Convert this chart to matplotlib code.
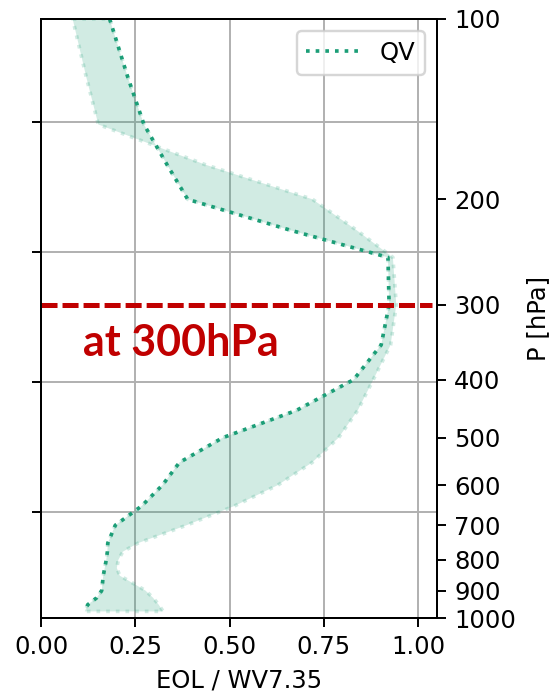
import numpy as np
import matplotlib
matplotlib.use("Agg")
import matplotlib.pyplot as plt
from matplotlib.ticker import FixedLocator, NullLocator, FixedFormatter

# Data
pressure = [100, 125, 150, 175, 200, 225, 250, 300, 350, 400, 450, 500, 550,
            600, 650, 700, 750, 775, 800, 825, 850, 875, 900, 925, 950, 975]
qv = [0.182, 0.230, 0.273, 0.334, 0.389, 0.659, 0.920, 0.923, 0.902, 0.829,
      0.678, 0.482, 0.367, 0.322, 0.267, 0.197, 0.177, 0.176, 0.173, 0.169,
      0.165, 0.163, 0.161, 0.148, 0.124, 0.116]
qv_other = [0.084, 0.120, 0.152, 0.435, 0.720, 0.836, 0.933, 0.942, 0.927,
            0.881, 0.840, 0.789, 0.719, 0.628, 0.513, 0.386, 0.257, 0.217,
            0.205, 0.201, 0.209, 0.244, 0.277, 0.297, 0.312, 0.324]
p_ticks = [100, 200, 300, 400, 500, 600, 700, 800, 900, 1000]
x_ticks = [0.0, 0.25, 0.5, 0.75, 1.0]
lnp_grid = [5.0, 5.5, 6.0, 6.5]
highlight_p = 300

color = "#1b9e77"
dpi = 175
fig = plt.figure(figsize=(556 / dpi, 696 / dpi), dpi=dpi)
ax = fig.add_axes([41 / 556, 78 / 696, 396 / 556, 599 / 696])

# primary axis: linear in ln(p), used for the grid
ax.set_xlim(0, 1.05)
ax.set_ylim(np.log(1000), np.log(100))
ax.set_yticks(lnp_grid)
ax.set_yticklabels([])
ax.set_xticks(x_ticks)
ax.set_xticklabels([f"{v:.2f}" for v in x_ticks])
ax.grid(True, color="#b0b0b0", linewidth=0.8)
ax.set_axisbelow(True)
ax.set_xlabel("EOL / WV7.35")

ax2 = ax.twinx()
ax2.set_yscale("log")
ax2.set_ylim(1000, 100)
ax2.yaxis.set_major_locator(FixedLocator(p_ticks))
ax2.yaxis.set_major_formatter(FixedFormatter([str(p) for p in p_ticks]))
ax2.yaxis.set_minor_locator(NullLocator())
ax2.set_ylabel("P [hPa]")

ax2.fill_betweenx(pressure, qv, qv_other, color=color, alpha=0.2,
                  linestyle=":", linewidth=1.5)
ax2.plot(qv, pressure, linestyle=":", color=color, linewidth=1.5, label="QV")
ax2.legend(loc="upper right", handlelength=2.2)

ax2.axhline(highlight_p, xmin=0, xmax=0.987, color="#c00000", linewidth=2.06,
            linestyle=(0, (3.2, 1.0)))
ax2.text(0.106, 0.437, "at 300hPa", transform=ax2.transAxes, color="#c00000",
         fontsize=17.7, fontweight="bold", family="Lato", ha="left",
         va="baseline")

fig.savefig("out.png", dpi=dpi)
